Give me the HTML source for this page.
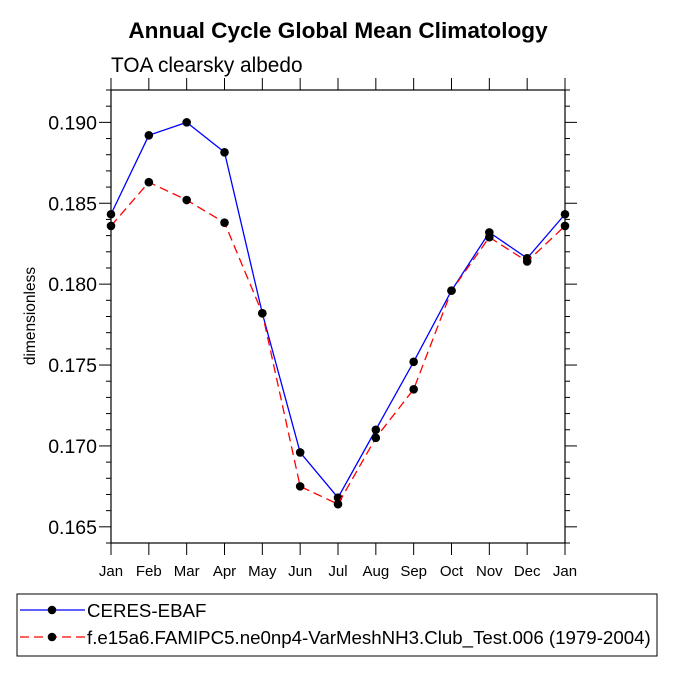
<!DOCTYPE html>
<html><head><meta charset="utf-8"><style>body{margin:0;background:#fff}svg{font-family:"Liberation Sans",Arial,sans-serif}</style></head>
<body>
<svg id="c" width="675" height="675" viewBox="0 0 675 675"></svg>
<script>
const months=["Jan","Feb","Mar","Apr","May","Jun","Jul","Aug","Sep","Oct","Nov","Dec","Jan"];
const ceres=[0.18432,0.1892,0.1900,0.18815,0.1782,0.1696,0.1668,0.1710,0.1752,0.1796,0.1832,0.1816,0.18432];
const model=[0.1836,0.1863,0.1852,0.1838,0.1782,0.1675,0.1664,0.1705,0.1735,0.1796,0.1829,0.1814,0.1836];
const yTicks=[0.165,0.170,0.175,0.180,0.185,0.190];
const yMin=0.164,yMax=0.192;
const L=111,R=565,T=90,B=543;
const NS="http://www.w3.org/2000/svg";
const svg=document.getElementById('c');
function el(t,a,p){const e=document.createElementNS(NS,t);for(const k in a)e.setAttribute(k,a[k]);(p||svg).appendChild(e);return e;}
const xs=i=>L+(R-L)*i/(months.length-1);
const ys=v=>B-(v-yMin)/(yMax-yMin)*(B-T);
let t=el('text',{x:338,y:38,'text-anchor':'middle','font-size':22.6,'font-weight':'bold'});t.textContent="Annual Cycle Global Mean Climatology";

t=el('text',{x:111,y:72,'font-size':20.8});t.textContent="TOA clearsky albedo";

t=el('text',{x:35,y:316,'text-anchor':'middle','font-size':15.5,transform:'rotate(-90 35 316)'});t.textContent="dimensionless";

const frame=el('rect',{x:L,y:T,width:R-L,height:B-T,fill:'none',stroke:'#000','stroke-width':1.2});

const ax=el('g',{stroke:'#000','stroke-width':1});

for(let v=Math.round(yMin*1000);v<=Math.round(yMax*1000);v++){
  const y=ys(v/1000);const major=v%5===0;const len=major?12:5;
  el('line',{x1:L-len,y1:y,x2:L,y2:y},ax);el('line',{x1:R,y1:y,x2:R+len,y2:y},ax);
}
yTicks.forEach(v=>{const tt=el('text',{x:L-14,y:ys(v)+7,'text-anchor':'end','font-size':19.5});tt.textContent=v.toFixed(3);
});
months.forEach((m,i)=>{const x=xs(i);
  el('line',{x1:x,y1:B,x2:x,y2:B+12},ax);el('line',{x1:x,y1:T-12,x2:x,y2:T},ax);
  const tt=el('text',{x:x,y:B+33,'text-anchor':'middle','font-size':15});tt.textContent=m;
  });
function series(d,col,dash,name){
  const g=el('g',{});
  el('polyline',{points:d.map((v,i)=>xs(i)+','+ys(v)).join(' '),fill:'none',stroke:col,'stroke-width':1.3,'stroke-dasharray':dash},g);
  d.forEach((v,i)=>{const c=el('circle',{cx:xs(i),cy:ys(v),r:4.3,fill:'#000'},g);
    });
}
series(ceres,'#0000ff','none','ceres-ebaf-series');
series(model,'#ff0000','9 5','model-series');
const lg=el('g',{});
el('rect',{x:17,y:594,width:640,height:62,fill:'none',stroke:'#000','stroke-width':1},lg);
el('line',{x1:20,y1:610,x2:85,y2:610,stroke:'#0000ff','stroke-width':1.3},lg);
el('circle',{cx:52,cy:610,r:4.3,fill:'#000'},lg);
el('line',{x1:20,y1:637,x2:85,y2:637,stroke:'#ff0000','stroke-width':1.3,'stroke-dasharray':'9 5'},lg);
el('circle',{cx:52,cy:637,r:4.3,fill:'#000'},lg);
t=el('text',{x:87,y:617,'font-size':18.7},lg);t.textContent="CERES-EBAF";

t=el('text',{x:87,y:644,'font-size':18.7},lg);t.textContent="f.e15a6.FAMIPC5.ne0np4-VarMeshNH3.Club_Test.006 (1979-2004)";

</script>
</body></html>
